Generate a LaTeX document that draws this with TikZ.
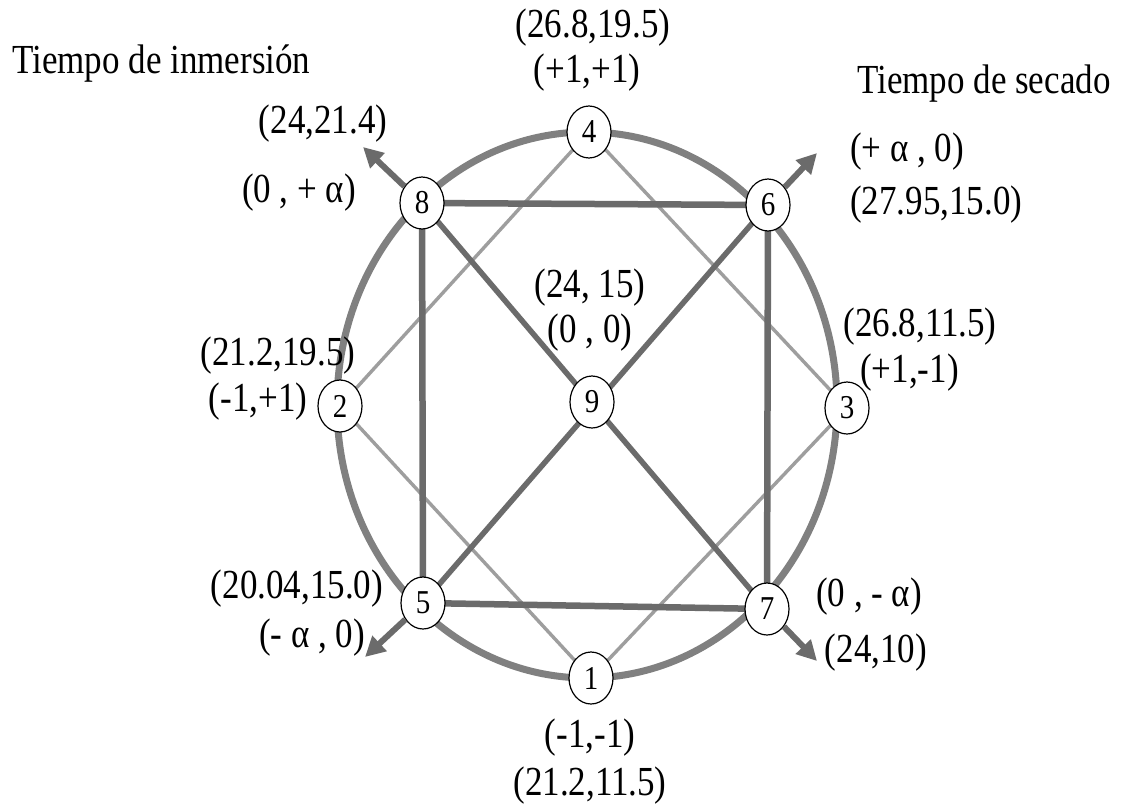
\documentclass[tikz,border=0pt]{standalone}
\usepackage{fontspec}
\setmainfont{Liberation Serif}
\usetikzlibrary{shapes.geometric,arrows.meta}
\newcommand{\lbl}[1]{\scalebox{1}[1.18]{#1}}
\newcommand{\dig}[1]{\scalebox{1}[1.15]{#1}}
\begin{document}
\begin{tikzpicture}[x=1pt,y=-1pt,
  pt/.style={ellipse,draw=black,line width=1.2pt,fill=white,minimum width=44pt,minimum height=52pt,inner sep=0pt,font=\fontsize{29}{32}\selectfont},
  lab/.style={inner sep=0pt,font=\fontsize{35}{40}\selectfont},
  rim/.style={draw=black!50,line width=7pt},
  sq/.style={draw=black!58,line width=6.5pt},
  diag/.style={draw=black!58,line width=5.5pt},
  dia/.style={draw=black!38,line width=3.4pt},
  arr/.style={draw=black!58,line width=6pt,-{Triangle[length=20pt,width=20pt]}}]
\useasboundingbox (0,0) rectangle (1127,811);
\fill[white] (0,0) rectangle (1127,811);
% outer ellipse
\draw[rim] (587,405) ellipse [x radius=250pt, y radius=273pt];
% node coordinates
\coordinate (c4) at (589,132);
\coordinate (c8) at (422,203);
\coordinate (c6) at (768,205);
\coordinate (c2) at (340,406);
\coordinate (c9) at (592,402);
\coordinate (c3) at (847,408);
\coordinate (c5) at (423,603);
\coordinate (c7) at (767,609);
\coordinate (c1) at (591,678);
% arrow tips
\coordinate (a8) at (363,147);
\coordinate (a6) at (817,153);
\coordinate (a5) at (365,657);
\coordinate (a7) at (817,661);
% lines
\draw[dia] (c4) -- (c2) -- (c1) -- (c3) -- cycle;
\draw[sq] (c8) -- (c6) -- (c7) -- (c5) -- cycle;
\draw[diag] (c8) -- (c7);
\draw[diag] (c5) -- (c6);
% nodes
\node[pt] (n1) at (c1) {\dig{1}};
\node[pt] (n2) at (c2) {\dig{2}};
\node[pt] (n3) at (c3) {\dig{3}};
\node[pt] (n4) at (c4) {\dig{4}};
\node[pt] (n5) at (c5) {\dig{5}};
\node[pt] (n6) at (c6) {\dig{6}};
\node[pt] (n7) at (c7) {\dig{7}};
\node[pt] (n8) at (c8) {\dig{8}};
\node[pt] (n9) at (c9) {\dig{9}};
% arrows
\draw[arr] (n8) -- (a8);
\draw[arr] (n6) -- (a6);
\draw[arr] (n5) -- (a5);
\draw[arr] (n7) -- (a7);
% labels
\node[lab,anchor=west] (tin) at (12,64) {\lbl{Tiempo de inmersión}};
\node[lab,anchor=west] (tse) at (857,84) {\lbl{Tiempo de secado}};
\node[lab] (l4a) at (593,28) {\lbl{(26.8,19.5)}};
\node[lab] (l4b) at (587,73) {\lbl{(+1,+1)}};
\node[lab] (l8a) at (323,124) {\lbl{(24,21.4)}};
\node[lab] (l8b) at (299,193) {\lbl{(0 , + α)}};
\node[lab,anchor=west] (l6a) at (850,152) {\lbl{(+ α , 0)}};
\node[lab,anchor=west] (l6b) at (850,205) {\lbl{(27.95,15.0)}};
\node[lab] (l9a) at (590,288) {\lbl{(24, 15)}};
\node[lab] (l9b) at (590,333) {\lbl{(0 , 0)}};
\node[lab] (l2a) at (278,356) {\lbl{(21.2,19.5)}};
\node[lab] (l2b) at (258,402) {\lbl{(-1,+1)}};
\node[lab] (l3a) at (920,327) {\lbl{(26.8,11.5)}};
\node[lab,anchor=west] (l3b) at (860,373) {\lbl{(+1,-1)}};
\node[lab] (l5a) at (297,589) {\lbl{(20.04,15.0)}};
\node[lab] (l5b) at (312,638) {\lbl{(- α , 0)}};
\node[lab] (l7a) at (869,597) {\lbl{(0 , - α)}};
\node[lab] (l7b) at (876,653) {\lbl{(24,10)}};
\node[lab] (l1a) at (590,738) {\lbl{(-1,-1)}};
\node[lab] (l1b) at (590,786) {\lbl{(21.2,11.5)}};
\end{tikzpicture}
\end{document}
